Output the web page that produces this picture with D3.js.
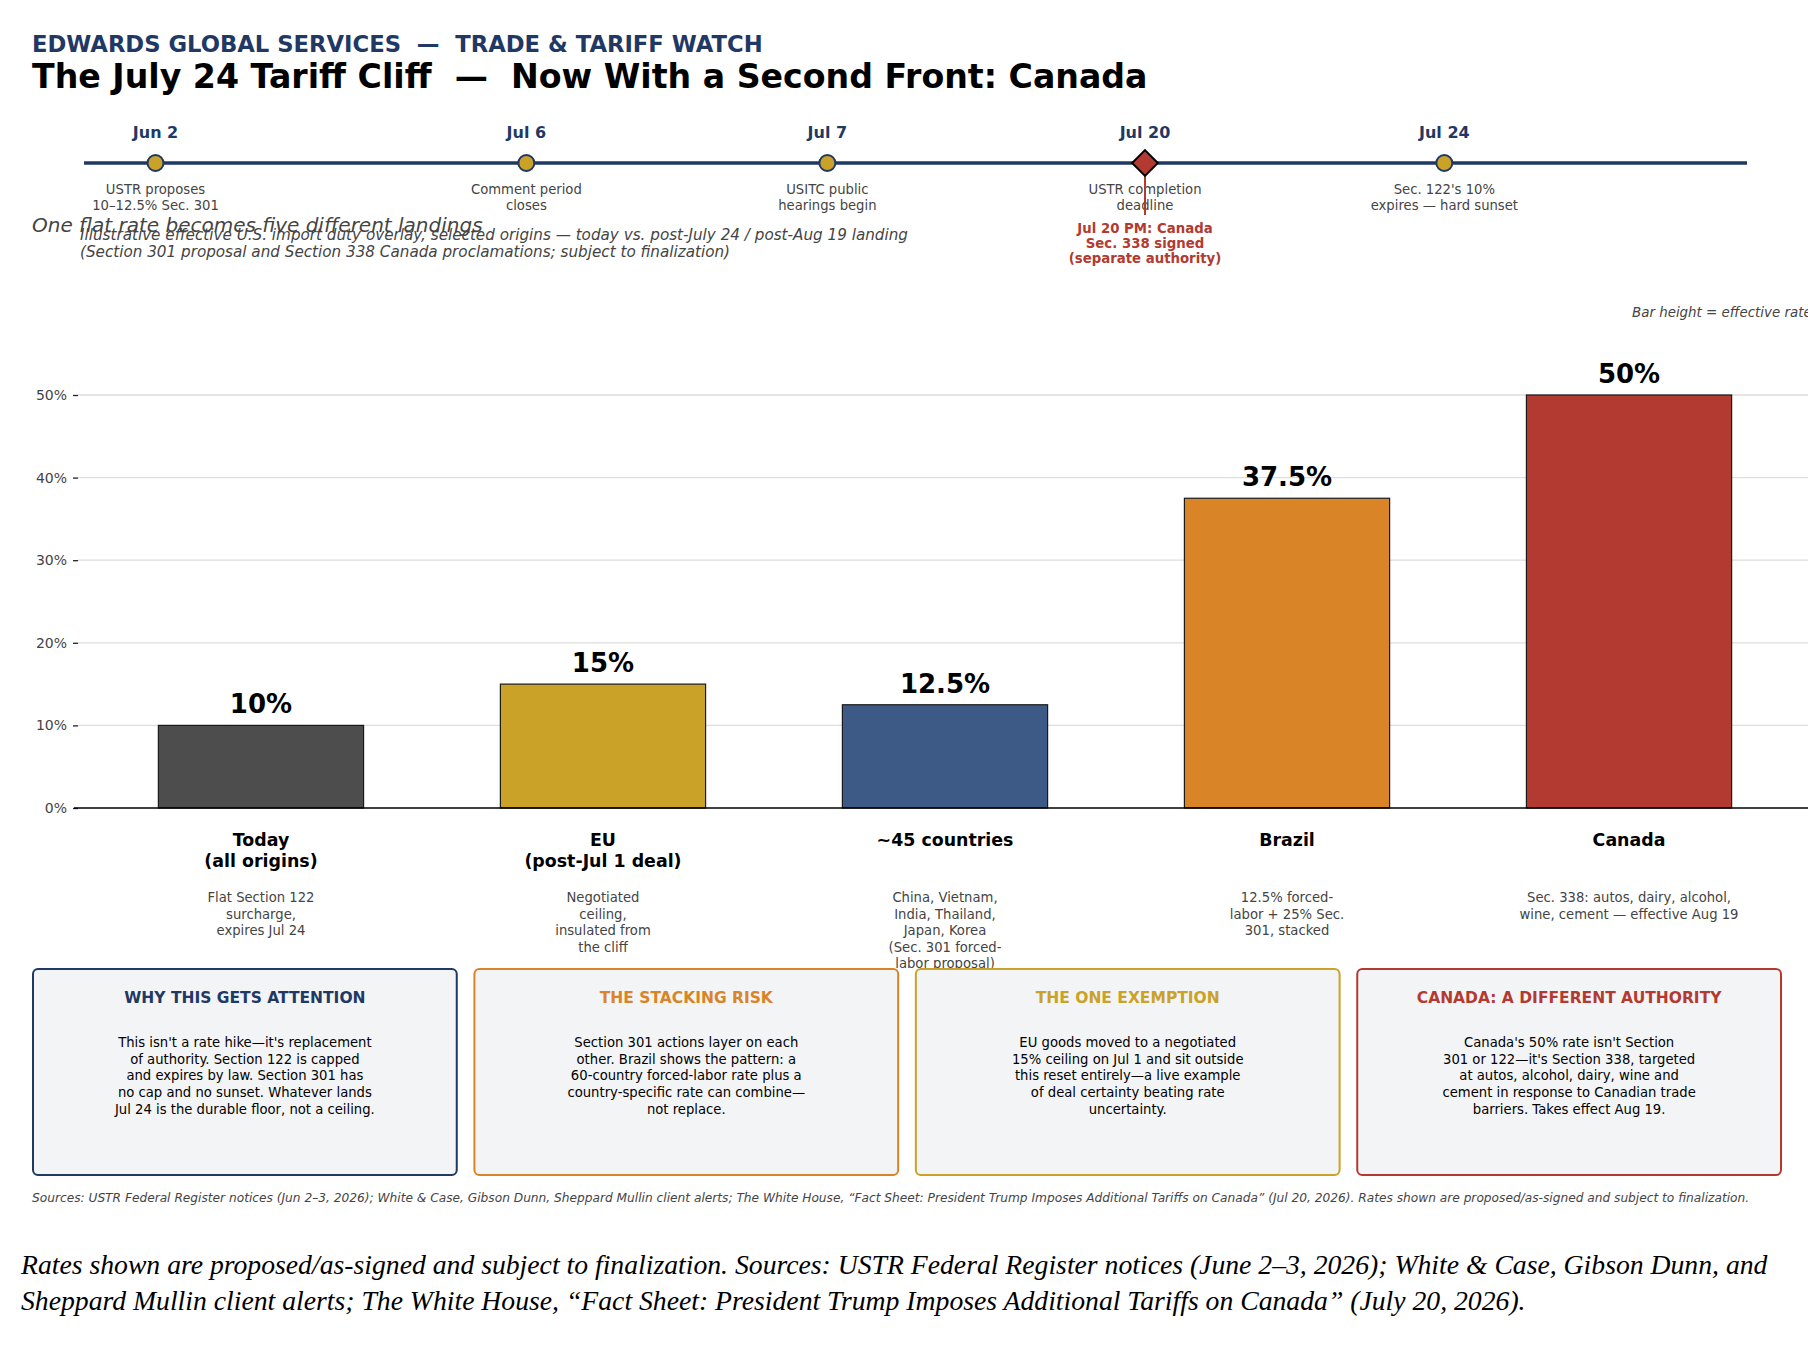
<!DOCTYPE html>
<html>
<head>
<meta charset="utf-8">
<script src="https://cdn.jsdelivr.net/npm/d3@7"></script>
<style>
  html, body { margin: 0; padding: 0; background: #fff; }
  svg { display: block; font-family: "DejaVu Sans", sans-serif; }
</style>
</head>
<body>
<div id="chart"></div>
<script>
// ---- data ----
const categories = ["Today\n(all origins)", "EU\n(post-Jul 1 deal)", "~45 countries", "Brazil", "Canada"];
const rates = [10, 15, 12.5, 37.5, 50];
const rateLabels = ["10%", "15%", "12.5%", "37.5%", "50%"];
const barColors = ["#4d4d4d", "#c9a227", "#3d5a87", "#d98427", "#b33a30"];
const notes = [
  ["Flat Section 122", "surcharge,", "expires Jul 24"],
  ["Negotiated", "ceiling,", "insulated from", "the cliff"],
  ["China, Vietnam,", "India, Thailand,", "Japan, Korea", "(Sec. 301 forced-", "labor proposal)"],
  ["12.5% forced-", "labor + 25% Sec.", "301, stacked"],
  ["Sec. 338: autos, dairy, alcohol,", "wine, cement \u2014 effective Aug 19"]
];
const yTicks = [0, 10, 20, 30, 40, 50];

const eventDates = ["Jun 2", "Jul 6", "Jul 7", "Jul 20", "Jul 24"];
const eventPos = [4.3, 26.6, 44.7, 63.8, 81.8];   // position along the timeline (0-100)
const eventText = [
  ["USTR proposes", "10\u201312.5% Sec. 301"],
  ["Comment period", "closes"],
  ["USITC public", "hearings begin"],
  ["USTR completion", "deadline"],
  ["Sec. 122's 10%", "expires \u2014 hard sunset"]
];
const eventKey = [false, false, false, true, false];
const keyNote = ["Jul 20 PM: Canada", "Sec. 338 signed", "(separate authority)"];

const boxTitles = ["WHY THIS GETS ATTENTION", "THE STACKING RISK", "THE ONE EXEMPTION", "CANADA: A DIFFERENT AUTHORITY"];
const boxColors = ["#1f3864", "#d98427", "#c9a227", "#b33a30"];
const boxBodies = [
  ["This isn't a rate hike\u2014it's replacement", "of authority. Section 122 is capped", "and expires by law. Section 301 has", "no cap and no sunset. Whatever lands", "Jul 24 is the durable floor, not a ceiling."],
  ["Section 301 actions layer on each", "other. Brazil shows the pattern: a", "60-country forced-labor rate plus a", "country-specific rate can combine\u2014", "not replace."],
  ["EU goods moved to a negotiated", "15% ceiling on Jul 1 and sit outside", "this reset entirely\u2014a live example", "of deal certainty beating rate", "uncertainty."],
  ["Canada's 50% rate isn't Section", "301 or 122\u2014it's Section 338, targeted", "at autos, alcohol, dairy, wine and", "cement in response to Canadian trade", "barriers. Takes effect Aug 19."]
];

const sourcesText = "Sources: USTR Federal Register notices (Jun 2\u20133, 2026); White & Case, Gibson Dunn, Sheppard Mullin client alerts; The White House, \u201cFact Sheet: President Trump Imposes Additional Tariffs on Canada\u201d (Jul 20, 2026). Rates shown are proposed/as-signed and subject to finalization.";
const footerLines = [
  "Rates shown are proposed/as-signed and subject to finalization. Sources: USTR Federal Register notices (June 2\u20133, 2026); White & Case, Gibson Dunn, and",
  "Sheppard Mullin client alerts; The White House, \u201cFact Sheet: President Trump Imposes Additional Tariffs on Canada\u201d (July 20, 2026)."
];

// ---- layout ----
const W = 1808, H = 1356;
const navy = "#1f3864", gray = "#444";

const svg = d3.select("#chart").append("svg")
  .attr("width", W).attr("height", H);

// header
svg.append("text").attr("x", 32).attr("y", 52)
  .attr("font-size", 22.7).attr("font-weight", "bold").attr("fill", navy)
  .attr("xml:space", "preserve")
  .text("EDWARDS GLOBAL SERVICES  \u2014  TRADE & TARIFF WATCH");
svg.append("text").attr("x", 32).attr("y", 88)
  .attr("font-size", 33.2).attr("font-weight", "bold").attr("fill", "#000")
  .attr("xml:space", "preserve")
  .text("The July 24 Tariff Cliff  \u2014  Now With a Second Front: Canada");

// ---- timeline ----
const tx = d3.scaleLinear().domain([0, 100]).range([84, 1747]);
const lineY = 163;
svg.append("line")
  .attr("x1", tx(0)).attr("x2", tx(100))
  .attr("y1", lineY).attr("y2", lineY)
  .attr("stroke", navy).attr("stroke-width", 3.5);

const ev = svg.append("g").selectAll("g")
  .data(eventDates.map((d, i) => ({date: d, pos: eventPos[i], text: eventText[i], key: eventKey[i]})))
  .join("g")
  .attr("transform", d => `translate(${tx(d.pos)},0)`);

ev.append("text").attr("y", 138).attr("text-anchor", "middle")
  .attr("font-size", 16).attr("font-weight", "bold").attr("fill", navy)
  .text(d => d.date);

ev.each(function(d) {
  const g = d3.select(this);
  d.text.forEach((t, j) => {
    g.append("text").attr("y", 194 + j * 16).attr("text-anchor", "middle")
      .attr("font-size", 13.2).attr("fill", gray).text(t);
  });
  if (d.key) {
    g.append("line").attr("x1", 0).attr("x2", 0)
      .attr("y1", lineY).attr("y2", 215)
      .attr("stroke", "#b33a30").attr("stroke-width", 2);
    g.append("path")
      .attr("d", d3.symbol(d3.symbolDiamond2, 420)())
      .attr("transform", `translate(0,${lineY})`)
      .attr("fill", "#b33a30").attr("stroke", "#000").attr("stroke-width", 2);
    keyNote.forEach((t, j) => {
      g.append("text").attr("y", 233 + j * 15).attr("text-anchor", "middle")
        .attr("font-size", 13.3).attr("font-weight", "bold").attr("fill", "#b33a30").text(t);
    });
  } else {
    g.append("circle").attr("cy", lineY).attr("r", 8)
      .attr("fill", "#c9a227").attr("stroke", navy).attr("stroke-width", 2);
  }
});

// subtitles
svg.append("text").attr("x", 32).attr("y", 232)
  .attr("font-size", 20).attr("font-style", "italic").attr("fill", gray)
  .text("One flat rate becomes five different landings");
svg.append("text").attr("x", 80).attr("y", 240)
  .attr("font-size", 15.2).attr("font-style", "italic").attr("fill", gray)
  .text("Illustrative effective U.S. import duty overlay, selected origins \u2014 today vs. post-July 24 / post-Aug 19 landing");
svg.append("text").attr("x", 80).attr("y", 257)
  .attr("font-size", 15.2).attr("font-style", "italic").attr("fill", gray)
  .text("(Section 301 proposal and Section 338 Canada proclamations; subject to finalization)");
svg.append("text").attr("x", 1632).attr("y", 317)
  .attr("font-size", 13.4).attr("font-style", "italic").attr("fill", gray)
  .text("Bar height = effective rate");

// ---- bar chart ----
const x = d3.scaleBand().domain(categories).range([78, 1812])
  .paddingInner(0.4).paddingOuter(0.235);
const y = d3.scaleLinear().domain([0, 50]).range([808, 395]);

// gridlines
svg.append("g").selectAll("line")
  .data(yTicks.filter(d => d > 0))
  .join("line")
  .attr("x1", 78).attr("x2", W)
  .attr("y1", d => y(d)).attr("y2", d => y(d))
  .attr("stroke", "#dddddd").attr("stroke-width", 1.3);

// y axis
const yAxis = svg.append("g").attr("transform", "translate(78,0)")
  .call(d3.axisLeft(y).tickValues(yTicks).tickFormat(d => d + "%").tickSize(5).tickPadding(6));
yAxis.select(".domain").remove();
yAxis.selectAll(".tick line").attr("stroke", "#222").attr("stroke-width", 1.3);
yAxis.selectAll(".tick text").attr("font-size", 14).attr("fill", gray)
  .attr("font-family", "DejaVu Sans, sans-serif");

// bars
svg.append("g").selectAll("rect")
  .data(categories)
  .join("rect")
  .attr("x", d => x(d))
  .attr("width", x.bandwidth())
  .attr("y", (d, i) => y(rates[i]))
  .attr("height", (d, i) => y(0) - y(rates[i]))
  .attr("fill", (d, i) => barColors[i])
  .attr("stroke", "#1a1a1a").attr("stroke-width", 1.2);

// baseline
svg.append("line").attr("x1", 74).attr("x2", W)
  .attr("y1", y(0)).attr("y2", y(0))
  .attr("stroke", "#000").attr("stroke-width", 1.6);

// value labels
svg.append("g").selectAll("text")
  .data(categories)
  .join("text")
  .attr("x", d => x(d) + x.bandwidth() / 2)
  .attr("y", (d, i) => y(rates[i]) - 12)
  .attr("text-anchor", "middle")
  .attr("font-size", 26).attr("font-weight", "bold").attr("fill", "#000")
  .text((d, i) => rateLabels[i]);

// category labels and notes
const cat = svg.append("g").selectAll("g")
  .data(categories)
  .join("g")
  .attr("transform", d => `translate(${x(d) + x.bandwidth() / 2},0)`);
cat.each(function(d, i) {
  const g = d3.select(this);
  d.split("\n").forEach((t, j) => {
    g.append("text").attr("y", 846 + j * 21).attr("text-anchor", "middle")
      .attr("font-size", 17.4).attr("font-weight", "bold").attr("fill", "#000").text(t);
  });
  notes[i].forEach((t, j) => {
    g.append("text").attr("y", 902 + j * 16.6).attr("text-anchor", "middle")
      .attr("font-size", 13.2).attr("fill", gray).text(t);
  });
});

// ---- callout boxes ----
const bx = d3.scaleBand().domain(boxTitles).range([33, 1781]).paddingInner(0.04);
const box = svg.append("g").selectAll("g")
  .data(boxTitles)
  .join("g")
  .attr("transform", d => `translate(${bx(d)},969)`);
box.append("rect")
  .attr("width", bx.bandwidth()).attr("height", 206)
  .attr("rx", 5).attr("ry", 5)
  .attr("fill", "#f3f4f6")
  .attr("stroke", (d, i) => boxColors[i]).attr("stroke-width", 2);
box.append("text")
  .attr("x", bx.bandwidth() / 2).attr("y", 34)
  .attr("text-anchor", "middle")
  .attr("font-size", 15.5).attr("font-weight", "bold")
  .attr("fill", (d, i) => boxColors[i])
  .text(d => d);
box.each(function(d, i) {
  const g = d3.select(this);
  boxBodies[i].forEach((t, j) => {
    g.append("text").attr("x", bx.bandwidth() / 2).attr("y", 78 + j * 16.7)
      .attr("text-anchor", "middle").attr("font-size", 13.2).attr("fill", "#000").text(t);
  });
});

// sources
svg.append("text").attr("x", 32).attr("y", 1202)
  .attr("font-size", 12.2).attr("font-style", "italic").attr("fill", gray)
  .text(sourcesText);

// footer caption
footerLines.forEach((t, j) => {
  svg.append("text").attr("x", 21).attr("y", 1274 + j * 36)
    .attr("font-family", "Liberation Serif, serif")
    .attr("font-size", 27.7).attr("font-style", "italic").attr("fill", "#000")
    .text(t);
});
</script>
</body>
</html>
